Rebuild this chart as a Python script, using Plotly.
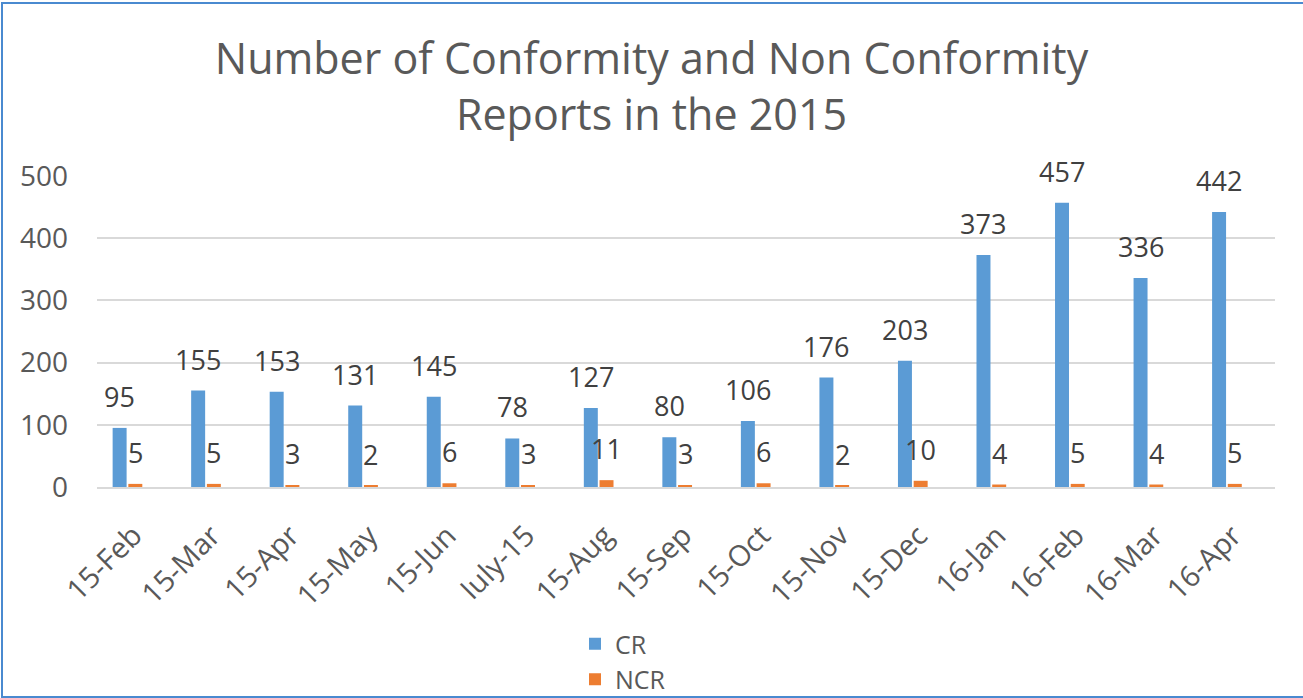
import plotly.graph_objects as go

categories = ["15-Feb", "15-Mar", "15-Apr", "15-May", "15-Jun", "Iuly-15", "15-Aug",
              "15-Sep", "15-Oct", "15-Nov", "15-Dec", "16-Jan", "16-Feb", "16-Mar", "16-Apr"]
cr_values = [95, 155, 153, 131, 145, 78, 127, 80, 106, 176, 203, 373, 457, 336, 442]
ncr_values = [5, 5, 3, 2, 6, 3, 11, 3, 6, 2, 10, 4, 5, 4, 5]
y_ticks = [0, 100, 200, 300, 400, 500]

FONT = "Open Sans"
CR_COLOR = "#5B9BD5"
NCR_COLOR = "#ED7D31"

W, H = 1303, 698
L, R, T, B = 97, 28, 176, 211
plot_w = W - L - R
plot_h = H - T - B

fig = go.Figure()
fig.add_trace(go.Bar(name="CR", x=categories, y=cr_values, marker_color=CR_COLOR,
                     marker_line_width=0))
fig.add_trace(go.Bar(name="NCR", x=categories, y=ncr_values, marker_color=NCR_COLOR,
                     marker_line_width=0))

slot = 7.9
for c, v in zip(categories, cr_values):
    fig.add_annotation(x=c, y=v, xref="x", yref="y", text=str(v), showarrow=False,
                       yanchor="bottom", xshift=-slot, yshift=11,
                       font=dict(family=FONT, size=27, color="#404040"))
for c, v in zip(categories, ncr_values):
    fig.add_annotation(x=c, y=v, xref="x", yref="y", text=str(v), showarrow=False,
                       yanchor="bottom", xshift=slot, yshift=11,
                       font=dict(family=FONT, size=27, color="#404040"))

# outer chart border
x0 = (2 - L) / plot_w
x1 = (1310 - L) / plot_w
y1 = (H - B - 3) / plot_h
y0 = (H - B - 697) / plot_h
fig.add_shape(type="rect", xref="paper", yref="paper", x0=x0, x1=x1, y0=y0, y1=y1,
              line=dict(color="#4A8AD0", width=2), layer="below")

fig.update_layout(
    width=W, height=H,
    margin=dict(l=L, r=R, t=T, b=B, autoexpand=False),
    paper_bgcolor="white", plot_bgcolor="white",
    title=dict(text="Number of Conformity and Non Conformity<br>Reports in the 2015",
               x=0.5, xref="container", xanchor="center",
               y=1 - 74 / H, yref="container", yanchor="middle",
               font=dict(family=FONT, size=43, color="#595959")),
    barmode="group", bargap=0.6, bargroupgap=0.11,
    font=dict(family=FONT, size=27, color="#595959"),
    xaxis=dict(range=[-0.388, 14.612], tickangle=-45, showgrid=False, showline=True,
               linecolor="#d9d9d9", linewidth=2, ticks="", ticklabelstandoff=18,
               ticklabelshift=6, automargin=False,
               tickfont=dict(family=FONT, size=29, color="#595959")),
    yaxis=dict(range=[0, 500], tickvals=y_ticks, showgrid=True, gridcolor="#d9d9d9",
               gridwidth=2, zeroline=False, showline=False, ticklabelstandoff=28,
               automargin=False,
               tickfont=dict(family=FONT, size=28, color="#595959")),
    legend=dict(orientation="v", x=(575 - L) / plot_w, xanchor="left",
                y=1 - 621 / H, yref="container", yanchor="top",
                font=dict(family=FONT, size=25, color="#595959"),
                bgcolor="rgba(0,0,0,0)", tracegroupgap=0),
    showlegend=True,
)

fig.write_html("out.html", config={"displayModeBar": False},
               post_script="document.body.style.margin='0px';")
